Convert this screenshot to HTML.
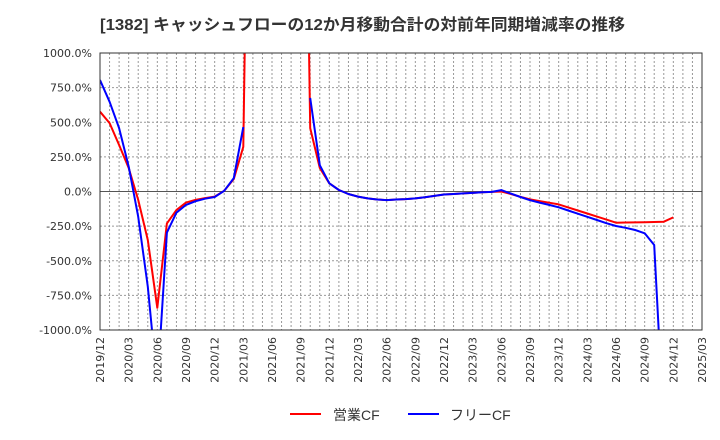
<!DOCTYPE html>
<html><head><meta charset="utf-8"><style>
body{margin:0;background:#fff;}
svg{display:block;font-family:"Liberation Sans","Noto Sans CJK JP",sans-serif;}
</style></head><body>
<svg id="chart" width="720" height="440" viewBox="0 0 720 440">
<text x="100" y="30" font-size="16" font-weight="bold" fill="#333" textLength="525" lengthAdjust="spacingAndGlyphs">[1382]  キャッシュフローの12か月移動合計の対前年同期増減率の推移</text>
<defs><clipPath id="plotclip"><rect x="100" y="53" width="602" height="277"/></clipPath></defs>
<g id="grid"></g>
<g id="yticks"></g>
<g id="xticks"></g>
<g id="series" clip-path="url(#plotclip)"></g>
<rect x="100" y="53" width="602" height="277" fill="none" stroke="#333" stroke-width="1"/>
<g>
<line x1="290" y1="414" x2="321" y2="414" stroke="#f00" stroke-width="2"/>
<text x="333" y="420" font-size="14" fill="#333">営業CF</text>
<line x1="408" y1="414" x2="439" y2="414" stroke="#00f" stroke-width="2"/>
<text x="450" y="420" font-size="14" fill="#333">フリーCF</text>
</g>
</svg>
<script>
const xLabels=["2019/12","2020/03","2020/06","2020/09","2020/12","2021/03","2021/06","2021/09","2021/12","2022/03","2022/06","2022/09","2022/12","2023/03","2023/06","2023/09","2023/12","2024/03","2024/06","2024/09","2024/12","2025/03"];
const yTicks=[1000,750,500,250,0,-250,-500,-750,-1000];
const operatingCF=[576,494,336,170,-61,-350,-840,-230,-134,-80,-60,-48,-37,5,90,323,5000,5000,5000,5000,5000,5000,458,170,59,11,-18,-37,-50,-58,-62,-58,-55,-50,-42,-32,-22,-18,-14,-10,-6,-3,0,-18,-38,-57,-69,-81,-93,-115,-137,-159,-181,-203,-225,-224,-223,-222,-220,-218,-187];
const freeCF=[805,648,458,180,-182,-687,-1400,-297,-153,-97,-70,-52,-40,5,97,466,null,null,null,null,null,null,675,190,59,11,-18,-37,-50,-58,-62,-58,-55,-50,-42,-32,-22,-18,-14,-10,-6,-3,10,-15,-40,-63,-80,-97,-114,-137,-160,-183,-206,-229,-249,-262,-278,-302,-386,-1700];
const NS="http://www.w3.org/2000/svg";
const X0=100,X1=702,Y0=53,Y1=330;
const nMonths=(xLabels.length-1)*3;
function xs(i){return X0+(X1-X0)*i/nMonths;}
function ys(v){return Y1-(v+1000)/2000*(Y1-Y0);}
function mk(tag,attrs,parent){const e=document.createElementNS(NS,tag);for(const k in attrs)e.setAttribute(k,attrs[k]);parent.appendChild(e);return e;}
const grid=document.getElementById('grid'),yt=document.getElementById('yticks'),xt=document.getElementById('xticks'),ser=document.getElementById('series');
for(let i=1;i<nMonths;i++){
  const l=mk('line',{x1:xs(i),x2:xs(i),y1:Y0,y2:Y1,stroke:'#999','stroke-dasharray':'2,2','stroke-width':1},grid);
  
  
}
yTicks.forEach(v=>{
  if(v!==1000&&v!==-1000){
    const l=mk('line',{x1:X0,x2:X1,y1:ys(v),y2:ys(v),stroke:v===0?'#555':'#999','stroke-dasharray':v===0?'':'2,2','stroke-width':1},grid);
    
    
  }
  const t=mk('text',{x:92,y:ys(v)+4,'text-anchor':'end','font-size':11,fill:'#333','font-family':'"DejaVu Sans",sans-serif'},yt);
  t.textContent=v.toFixed(1)+'%';
  
  
});
xLabels.forEach((s,k)=>{
  const x=xs(k*3);
  const t=mk('text',{x:0,y:0,transform:`translate(${x+4},337) rotate(-90)`,'text-anchor':'end','font-size':11,fill:'#333','font-family':'"DejaVu Sans",sans-serif'},xt);
  t.textContent=s;
  
  
});
function drawLine(vals,color,name){
  let d='',pen=false;
  vals.forEach((v,i)=>{
    if(v===null){pen=false;return;}
    d+=(pen?'L':'M')+xs(i).toFixed(1)+' '+ys(v).toFixed(1)+' ';pen=true;
  });
  const p=mk('path',{d:d,fill:'none',stroke:color,'stroke-width':2,'stroke-linejoin':'round'},ser);
  
  
}
drawLine(operatingCF,'#f00','operating-cf-line');
drawLine(freeCF,'#00f','free-cf-line');
</script>
</body></html>
